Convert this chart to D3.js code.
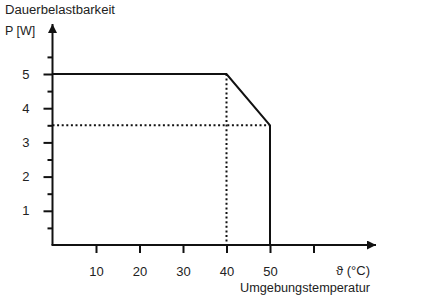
<!DOCTYPE html>
<html><head><meta charset="utf-8">
<script src="https://cdn.jsdelivr.net/npm/d3@7"></script>
<style>
html,body{margin:0;padding:0;background:#fff;}
text{font-family:"Liberation Sans","DejaVu Sans",sans-serif;fill:#222;}
</style></head>
<body><svg id="c" width="425" height="300"></svg>
<script>
// Data
const curveTemp = [0, 40, 50, 50];
const curvePower = [5, 5, 3.5, 0];
const guideH = {temp: [0, 50], power: [3.5, 3.5]};
const guideV = {temp: [40, 40], power: [5, 0]};
const xTicks = [10, 20, 30, 40, 50, 60];
const xTickLabels = ["10", "20", "30", "40", "50", ""];
const yMajor = [1, 2, 3, 4, 5];
const yMinor = [0.5, 1.5, 2.5, 3.5, 4.5, 5.5];
const yTitle = ["Dauerbelastbarkeit", "P [W]"];
const xTitle = ["ϑ (°C)", "Umgebungstemperatur"];

const svg = d3.select("#c");
const x = d3.scaleLinear().domain([0, 60]).range([52.5, 313.5]);
const y = d3.scaleLinear().domain([0, 5]).range([245, 74]);
const ink = "#111";

// arrow markers
const defs = svg.append("defs");
defs.append("marker").attr("id","arr").attr("viewBox","0 0 10 10")
  .attr("refX",10).attr("refY",5).attr("markerWidth",5).attr("markerHeight",4.5)
  .attr("orient","auto").attr("markerUnits","strokeWidth")
  .append("path").attr("d","M0,0L10,5L0,10Z").attr("fill",ink);

// axes lines
svg.append("line").attr("x1",x(0)).attr("y1",y(0)).attr("x2",x(0)).attr("y2",24)
  .attr("stroke",ink).attr("stroke-width",2).attr("marker-end","url(#arr)");
svg.append("line").attr("x1",x(0)-1).attr("y1",y(0)).attr("x2",376).attr("y2",y(0))
  .attr("stroke",ink).attr("stroke-width",2).attr("marker-end","url(#arr)");

// x axis ticks
const xa = svg.append("g").attr("transform",`translate(0,${y(0)})`)
  .call(d3.axisBottom(x).tickValues(xTicks).tickSize(8).tickPadding(14)
    .tickFormat((d,i)=>xTickLabels[i]));
xa.select(".domain").remove();
xa.selectAll(".tick line").attr("stroke",ink).attr("stroke-width",2);
xa.selectAll(".tick text").attr("font-size",13).attr("font-family","Liberation Sans, sans-serif").attr("fill","#222");

// y axis major
const ya = svg.append("g").attr("transform",`translate(${x(0)},0)`)
  .call(d3.axisLeft(y).tickValues(yMajor).tickSize(9).tickPadding(14).tickFormat(d3.format("d")));
ya.select(".domain").remove();
ya.selectAll(".tick line").attr("stroke",ink).attr("stroke-width",2);
ya.selectAll(".tick text").attr("font-size",13).attr("font-family","Liberation Sans, sans-serif").attr("fill","#222");
// y axis minor
const ym = svg.append("g").attr("transform",`translate(${x(0)},0)`)
  .call(d3.axisLeft(y).tickValues(yMinor).tickSize(5).tickFormat(""));
ym.select(".domain").remove();
ym.selectAll(".tick line").attr("stroke",ink).attr("stroke-width",2);

// guides (dotted)
const line = d3.line().x(d=>x(d[0])).y(d=>y(d[1]));
svg.append("path").datum(d3.zip(guideH.temp, guideH.power)).attr("d",line)
  .attr("fill","none").attr("stroke",ink).attr("stroke-width",2).attr("stroke-dasharray","2,2.6");
svg.append("path").datum(d3.zip(guideV.temp, guideV.power)).attr("d",line)
  .attr("fill","none").attr("stroke",ink).attr("stroke-width",2).attr("stroke-dasharray","2,2.6");

// curve
svg.append("path").datum(d3.zip(curveTemp, curvePower)).attr("d",line)
  .attr("fill","none").attr("stroke",ink).attr("stroke-width",2).attr("stroke-linejoin","miter");

// titles
svg.append("text").attr("x",5).attr("y",14).attr("font-size",12.5).text(yTitle[0])
  .attr("textLength",110).attr("lengthAdjust","spacingAndGlyphs");
svg.append("text").attr("x",5).attr("y",35).attr("font-size",12.5).text(yTitle[1]);
svg.append("text").attr("x",370).attr("y",275).attr("font-size",13).attr("text-anchor","end").text(xTitle[0]);
svg.append("text").attr("x",240).attr("y",292).attr("font-size",12.5).text(xTitle[1])
  .attr("textLength",130).attr("lengthAdjust","spacingAndGlyphs");
</script></body></html>
